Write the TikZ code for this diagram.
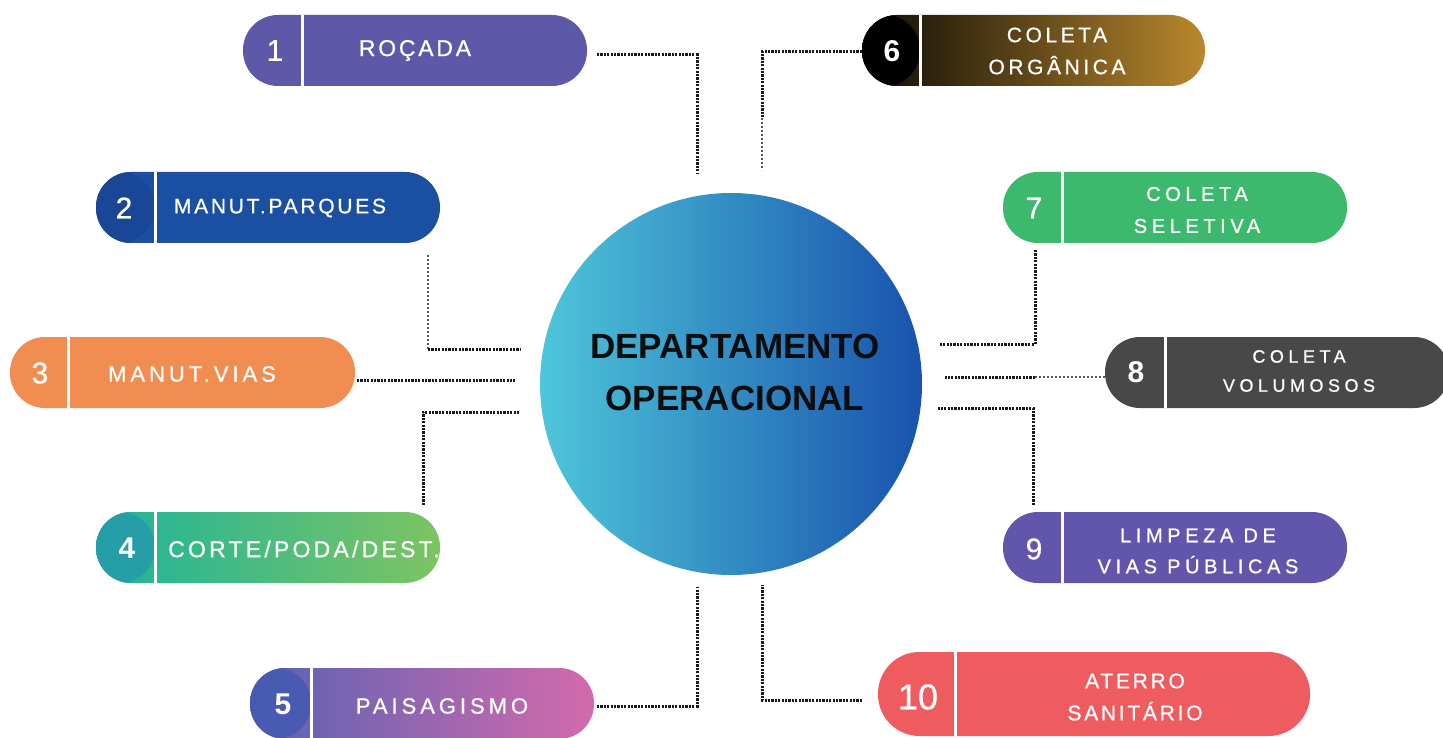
\documentclass[tikz,border=0pt]{standalone}
\usepackage{fontspec}
\setmainfont{Liberation Sans}
\newfontfamily\lsA[LetterSpace=12,FakeBold=0.8]{Liberation Sans}
\newfontfamily\lsB[LetterSpace=13,FakeBold=0.8]{Liberation Sans}
\newfontfamily\lsC[LetterSpace=18,FakeBold=0.8]{Liberation Sans}
\newfontfamily\lsD[LetterSpace=14,FakeBold=0.8]{Liberation Sans}
\newfontfamily\lsE[LetterSpace=17,FakeBold=0.8]{Liberation Sans}
\newfontfamily\lsF[LetterSpace=23,FakeBold=0.8]{Liberation Sans}
\newfontfamily\lsG[LetterSpace=25,FakeBold=0.8]{Liberation Sans}
\newfontfamily\numfont[FakeBold=0.6]{Liberation Sans}
\definecolor{c1}{RGB}{94,88,168}
\definecolor{c2}{RGB}{27,79,162}
\definecolor{c2n}{RGB}{25,70,150}
\definecolor{c3}{RGB}{242,141,82}
\definecolor{c4n}{RGB}{38,158,168}
\definecolor{c4a}{RGB}{28,180,155}
\definecolor{c4b}{RGB}{125,196,98}
\definecolor{c5n}{RGB}{72,90,178}
\definecolor{c5a}{RGB}{88,98,180}
\definecolor{c5b}{RGB}{212,106,172}
\definecolor{c6a}{RGB}{12,10,6}
\definecolor{c6b}{RGB}{186,136,45}
\definecolor{c7}{RGB}{60,185,108}
\definecolor{c8}{RGB}{72,72,72}
\definecolor{c9}{RGB}{98,86,172}
\definecolor{c10}{RGB}{238,92,96}
\definecolor{cirA}{RGB}{78,198,218}
\definecolor{cirM}{RGB}{40,165,212}
\definecolor{cirB}{RGB}{24,82,172}
\tikzset{
  pillbox/.style={rectangle, inner sep=0pt, draw=none},
  sepat/.style={path picture={\draw[white,line width=3pt]
     ([xshift=#1]path picture bounding box.north west) --
     ([xshift=#1]path picture bounding box.south west);}},
  numsep/.style 2 args={path picture={
     \fill[#2] (path picture bounding box.south west) rectangle
       ([xshift=#1]path picture bounding box.north west);
     \draw[white,line width=3pt]
     ([xshift=#1]path picture bounding box.north west) --
     ([xshift=#1]path picture bounding box.south west);}},
  num/.style={text=white, font=\numfont\fontsize{30}{32}\selectfont, inner sep=0pt},
  numb/.style={text=white, font=\fontsize{30}{32}\selectfont\bfseries, inner sep=0pt},
  lab/.style={text=white, align=center, inner sep=0pt},
  conn/.style={line width=3pt, dash pattern=on 2.2pt off 1.2pt, black!90},
  connlight/.style={line width=2pt, dash pattern=on 2pt off 2pt, black!65},
}
\begin{document}
\begin{tikzpicture}[x=1pt,y=-1pt]
\useasboundingbox (0,0) rectangle (1443,738);
\clip (0,0) rectangle (1443,738);
\fill[white] (0,0) rectangle (1443,738);

% central circle
\node[circle, minimum size=382pt, inner sep=0pt, left color=cirA, middle color=cirM, right color=cirB] (c) at (731,384) {};
\node[align=center, font=\fontsize{35}{52}\selectfont\bfseries, text=black!95, inner sep=0pt] (ct) at (735,372) {DEPARTAMENTO\\OPERACIONAL};

% pills
\node[pillbox, minimum width=344pt, minimum height=71pt, rounded corners=35pt, fill=c1, sepat=59pt] (p1) at (415,50.5) {};
\node[num] (n1) at (275,50.5) {1};
\node[lab, font=\lsA\fontsize{23}{30}\selectfont] (t1) at (415,50.5) {ROÇADA};

\node[pillbox, minimum width=344pt, minimum height=71pt, rounded corners=35pt, fill=c2, numsep={59pt}{c2n}] (p2) at (268,207.5) {};
\node[num] (n2) at (124,208) {2};
\node[lab, font=\lsB\fontsize{21}{30}\selectfont] (t2) at (280,208) {MANUT.PARQUES};

\node[pillbox, minimum width=345pt, minimum height=71pt, rounded corners=35pt, fill=c3, sepat=58pt] (p3) at (182.5,372.5) {};
\node[num] (n3) at (40,373) {3};
\node[lab, font=\lsC\fontsize{22}{30}\selectfont] (t3) at (192,374) {MANUT.VIAS};

\node[pillbox, minimum width=344pt, minimum height=71pt, rounded corners=35pt, left color=c4a, right color=c4b, numsep={59pt}{c4n}] (p4) at (268,547.5) {};
\node[numb] (n4) at (127,548) {4};
\node[lab, font=\lsD\fontsize{23}{30}\selectfont] (t4) at (304,549) {CORTE/PODA/DEST.};

\node[pillbox, minimum width=344pt, minimum height=71pt, rounded corners=35pt, left color=c5a, right color=c5b, numsep={61pt}{c5n}] (p5) at (422,703.5) {};
\node[numb] (n5) at (283,704) {5};
\node[lab, font=\lsC\fontsize{22}{30}\selectfont] (t5) at (442,706) {PAISAGISMO};

\node[pillbox, minimum width=343pt, minimum height=71pt, rounded corners=35pt, left color=c6a, right color=c6b, numsep={58pt}{black}] (p6) at (1033.5,50.5) {};
\node[numb] (n6) at (892,51) {6};
\node[lab, font=\lsE\fontsize{21}{32}\selectfont] (t6) at (1057,51) {COLETA\\ORGÂNICA};

\node[pillbox, minimum width=344pt, minimum height=71pt, rounded corners=35pt, fill=c7, sepat=59pt] (p7) at (1175,207.5) {};
\node[num] (n7) at (1034,208) {7};
\node[lab, font=\lsF\fontsize{20}{32}\selectfont] (t7) at (1197,210) {COLETA\\SELETIVA};

\node[pillbox, minimum width=344pt, minimum height=71pt, rounded corners=35pt, fill=c8, sepat=60pt] (p8) at (1277,372.5) {};
\node[numb] (n8) at (1136,372) {8};
\node[lab, font=\lsG\fontsize{18}{29}\selectfont] (t8) at (1299,371) {COLETA\\VOLUMOSOS};

\node[pillbox, minimum width=344pt, minimum height=71pt, rounded corners=35pt, fill=c9, sepat=59pt] (p9) at (1175,547.5) {};
\node[num] (n9) at (1034,549) {9};
\node[lab, font=\lsF\fontsize{20}{31}\selectfont] (t9) at (1198,551) {LIMPEZA DE\\VIAS PÚBLICAS};

\node[pillbox, minimum width=432pt, minimum height=84pt, rounded corners=41.5pt, fill=c10, sepat=77pt] (p10) at (1094,694) {};
\node[num, font=\numfont\fontsize{36}{38}\selectfont] (n10) at (918,697) {10};
\node[lab, font=\lsB\fontsize{21}{32}\selectfont] (t10) at (1135,697) {ATERRO\\SANITÁRIO};

% connectors
\coordinate (a1) at (597,55);   \coordinate (b1) at (697,174);
\draw[conn] (a1) -| (b1);

\coordinate (a6) at (862,52);   \coordinate (m6) at (762,118); \coordinate (b6) at (762,170);
\draw[conn] (a6) -| (m6);
\draw[connlight] (m6) -- (b6);

\coordinate (a2) at (428,255);  \coordinate (m2) at (428,349); \coordinate (b2) at (520,349);
\draw[connlight] (a2) -- (m2);
\draw[conn] (m2) -- (b2);

\coordinate (a3) at (357,380);  \coordinate (b3) at (515,380);
\draw[conn] (a3) -- (b3);

\coordinate (a4) at (423,505);  \coordinate (b4) at (520,412);
\draw[conn] (a4) |- (b4);

\coordinate (a5) at (597,706);  \coordinate (b5) at (697,587);
\draw[conn] (a5) -| (b5);

\coordinate (a10) at (862,700); \coordinate (b10) at (762,585);
\draw[conn] (a10) -| (b10);

\coordinate (a7) at (1035,250); \coordinate (b7) at (940,344);
\draw[conn] (a7) |- (b7);

\coordinate (a8) at (1105,377); \coordinate (m8) at (1035,377); \coordinate (b8) at (945,377);
\draw[connlight] (a8) -- (m8);
\draw[conn] (m8) -- (b8);

\coordinate (a9) at (1033,505); \coordinate (b9) at (938,408);
\draw[conn] (a9) |- (b9);
\end{tikzpicture}
\end{document}
